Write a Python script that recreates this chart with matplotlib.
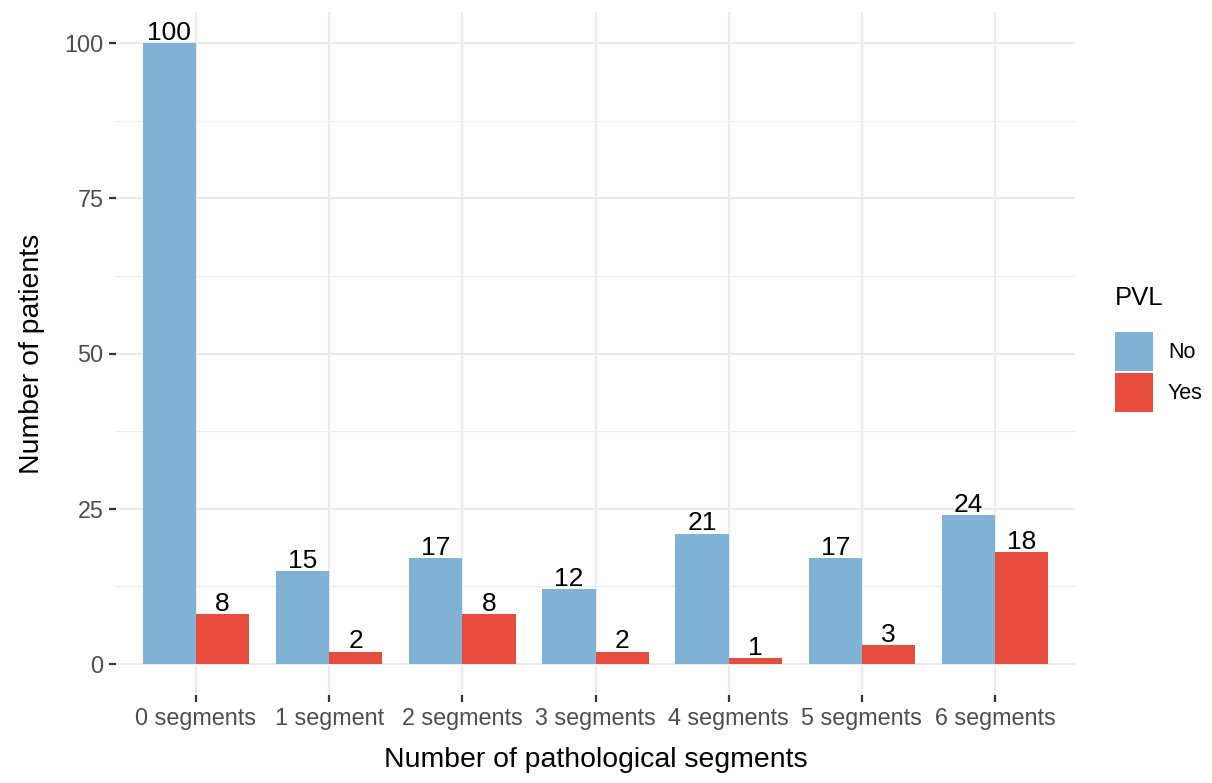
import matplotlib
matplotlib.use("Agg")
import matplotlib.pyplot as plt
import numpy as np
from matplotlib.patches import Patch

plt.rcParams['font.family'] = ['Liberation Sans', 'DejaVu Sans']

categories = ["0 segments", "1 segment", "2 segments", "3 segments",
              "4 segments", "5 segments", "6 segments"]
no_values = [100, 15, 17, 12, 21, 17, 24]
yes_values = [8, 2, 8, 2, 1, 3, 18]
groups = ["No", "Yes"]
colors = ["#7FB2D5", "#E84C3D"]


def main():
    fig = plt.figure(figsize=(12.12, 7.83), dpi=100)
    ax = fig.add_axes([116 / 1212, 1 - 695 / 783, (1075 - 116) / 1212, (695 - 12) / 783])

    x = np.arange(len(categories))
    width = 0.4
    series = [no_values, yes_values]
    for i, vals in enumerate(series):
        pos = x + (i - 0.5) * width
        ax.bar(pos, vals, width=width, color=colors[i], zorder=2)
        for p, v in zip(pos, vals):
            ax.text(p, v + 0.5, str(v), ha="center", va="baseline",
                    fontsize=19, color="black", zorder=3)

    ax.set_xlim(-0.6, len(categories) - 0.4)
    ax.set_ylim(-5, 105)
    ax.set_yticks([0, 25, 50, 75, 100])
    ax.set_yticks([12.5, 37.5, 62.5, 87.5], minor=True)
    ax.set_xticks(x)
    ax.set_xticklabels(categories)

    ax.grid(which="major", color="#EBEBEB", linewidth=1.6, zorder=0)
    ax.grid(which="minor", axis="y", color="#EBEBEB", linewidth=0.8, zorder=0)
    ax.tick_params(which="minor", length=0)
    ax.tick_params(which="major", length=5, width=1.6, color="#333333",
                   labelsize=16.8, labelcolor="#4D4D4D", pad=4)
    for s in ax.spines.values():
        s.set_visible(False)

    ax.set_xlabel("Number of pathological segments", fontsize=20.4, labelpad=12)
    ax.set_ylabel("Number of patients", fontsize=20.4, labelpad=14)

    # legend: title as separate text so the gap matches ggplot
    fig.text(1115 / 1212, 1 - 298 / 783, "PVL", fontsize=18.5,
             ha="left", va="center")
    handles = [Patch(facecolor=c, edgecolor="none") for c in colors]
    fig.legend(handles, groups, loc="center left",
               bbox_to_anchor=(1093 / 1212, 1 - 372 / 783),
               frameon=False, fontsize=15.5,
               handlelength=1.78, handleheight=2.4, handletextpad=0.7,
               labelspacing=0.1, borderpad=0.5)

    fig.savefig("out.png", dpi=100)


if __name__ == "__main__":
    main()
